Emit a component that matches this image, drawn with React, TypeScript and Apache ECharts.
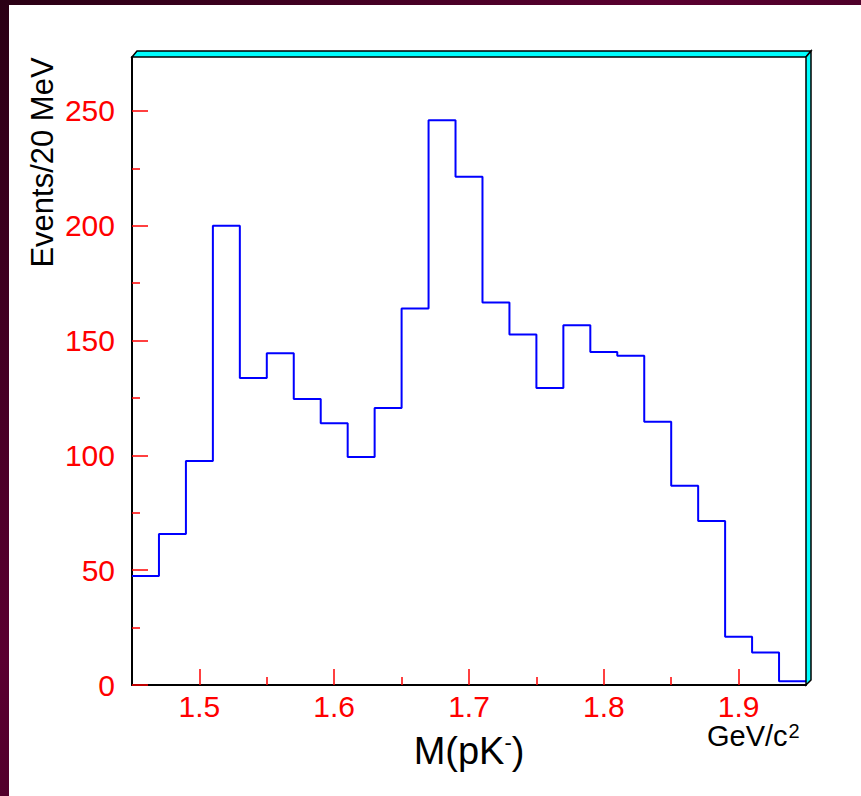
import { useEffect, useRef } from "react";
import * as echarts from "echarts";

const binEdges = [
  1.45, 1.47, 1.49, 1.51, 1.53, 1.55, 1.57, 1.59, 1.61, 1.63, 1.65, 1.67, 1.69,
  1.71, 1.73, 1.75, 1.77, 1.79, 1.81, 1.83, 1.85, 1.87, 1.89, 1.91, 1.93, 1.95,
];
const counts = [
  47.5, 65.8, 97.6, 200, 133.7, 144.5, 124.6, 114, 99.3, 120.6, 164, 246, 221.3,
  166.6, 152.6, 129.4, 156.7, 145, 143.4, 114.7, 86.8, 71.4, 21, 14.1, 1.6,
];
const xMajorTicks = [1.5, 1.6, 1.7, 1.8, 1.9];
const xMinorTicks = [1.55, 1.65, 1.75, 1.85];
const yMajorTicks = [0, 50, 100, 150, 200, 250];
const yMinorTicks = [25, 75, 125, 175, 225];
const xMin = 1.45;
const xMax = 1.95;
const yMax = 273.5;

const W = 861;
const H = 796;
const G = { left: 132, top: 57, right: 55, bottom: 111 };
const FONT = "'Liberation Sans', Arial, Helvetica, sans-serif";

export default function App() {
  const ref = useRef<HTMLDivElement>(null);
  useEffect(() => {
    if (!ref.current) return;
    const chart = echarts.init(ref.current, undefined, { renderer: "svg" });
    const histData = binEdges.map((e, i) => [e, counts[Math.min(i, counts.length - 1)]]);
    const L = G.left;
    const T = G.top;
    const R = W - G.right;
    const B = H - G.bottom;
    const d = 5;
    const tickRed = "#ff0000";
    chart.setOption({
      animation: false,
      backgroundColor: "transparent",
      textStyle: { fontFamily: FONT },
      grid: { left: G.left, top: G.top, right: G.right, bottom: G.bottom },
      xAxis: [
        {
          type: "value",
          min: xMin,
          max: xMax,
          position: "bottom",
          axisLine: { show: true, lineStyle: { color: "#000", width: 2 } },
          splitLine: { show: false },
          axisTick: {
            show: true,
            inside: true,
            length: 16,
            customValues: xMajorTicks,
            lineStyle: { color: tickRed, width: 1.5 },
          },
          axisLabel: {
            show: true,
            customValues: xMajorTicks,
            formatter: (v: number) => v.toFixed(1),
            color: tickRed,
            fontSize: 30,
            fontFamily: FONT,
            margin: 6,
          },
          name: "M(pK{s|-})",
          nameLocation: "middle",
          nameGap: 46,
          nameTextStyle: {
            color: "#000",
            fontSize: 38,
            fontFamily: FONT,
            rich: {
              s: { fontSize: 22, verticalAlign: "top", color: "#000", fontFamily: FONT, padding: [0, 0, 18, 0] },
            },
          },
        },
        {
          type: "value",
          min: xMin,
          max: xMax,
          position: "bottom",
          axisLine: { show: false },
          splitLine: { show: false },
          axisTick: {
            show: true,
            inside: true,
            length: 8,
            customValues: xMinorTicks,
            lineStyle: { color: tickRed, width: 1.5 },
          },
          axisLabel: { show: false },
        },
      ],
      yAxis: [
        {
          type: "value",
          min: 0,
          max: yMax,
          position: "left",
          axisLine: { show: true, lineStyle: { color: "#000", width: 2 } },
          splitLine: { show: false },
          axisTick: {
            show: true,
            inside: true,
            length: 16,
            customValues: yMajorTicks,
            lineStyle: { color: tickRed, width: 1.5 },
          },
          axisLabel: {
            show: true,
            customValues: yMajorTicks,
            color: tickRed,
            fontSize: 30,
            fontFamily: FONT,
            margin: 17,
          },
        },
        {
          type: "value",
          min: 0,
          max: yMax,
          position: "left",
          axisLine: { show: false },
          splitLine: { show: false },
          axisTick: {
            show: true,
            inside: true,
            length: 8,
            customValues: yMinorTicks,
            lineStyle: { color: tickRed, width: 1.5 },
          },
          axisLabel: { show: false },
        },
      ],
      series: [
        {
          type: "line",
          step: "end",
          data: histData,
          showSymbol: false,
          symbol: "none",
          lineStyle: { color: "#0000ff", width: 2 },
          xAxisIndex: 0,
          yAxisIndex: 0,
          clip: false,
        },
      ],
      graphic: [
        {
          type: "polygon",
          shape: { points: [[L, T], [L + d, T - 6], [R + d, T - 6], [R, T]] },
          style: { fill: "#00ffff", stroke: "#000", lineWidth: 1.5 },
          z: 10,
        },
        {
          type: "polygon",
          shape: { points: [[R, T], [R + d, T - 6], [R + d, B - 5], [R, B]] },
          style: { fill: "#00ffff", stroke: "#000", lineWidth: 1.5 },
          z: 10,
        },
        {
          type: "text",
          x: 42.5,
          y: 162.5,
          rotation: Math.PI / 2,
          style: {
            text: "Events/20 MeV",
            fill: "#000",
            font: `31px ${FONT}`,
            align: "center",
            verticalAlign: "middle",
          },
        },
        {
          type: "text",
          x: 707,
          y: 721,
          style: {
            text: "GeV/c{s|2}",
            fill: "#000",
            font: `29px ${FONT}`,
            align: "left",
            verticalAlign: "top",
            rich: {
              s: { fontSize: 20, fill: "#000", fontFamily: FONT, verticalAlign: "top", padding: [0, 0, 10, 1] },
            },
          },
        },
      ],
    });
    return () => chart.dispose();
  }, []);

  return (
    <div
      style={{
        position: "absolute",
        left: 0,
        top: 0,
        width: W,
        height: H,
        background: "linear-gradient(135deg, #2a0014 0%, #5a0030 40%, #22000f 100%)",
        overflow: "hidden",
      }}
    >
      <div style={{ position: "absolute", left: 9, top: 5, right: 0, bottom: 0, background: "#fff" }} />
      <div ref={ref} style={{ position: "absolute", left: 0, top: 0, width: W, height: H }} />
    </div>
  );
}
